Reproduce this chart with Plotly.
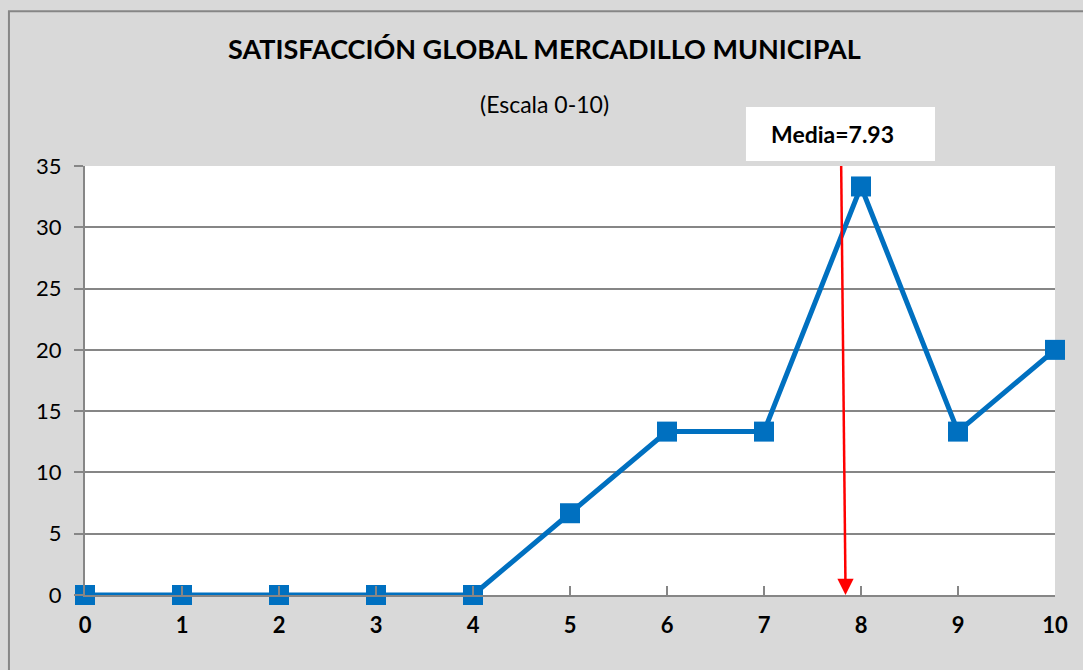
import plotly.graph_objects as go

categories = [0, 1, 2, 3, 4, 5, 6, 7, 8, 9, 10]
values = [0, 0, 0, 0, 0, 6.67, 13.33, 13.33, 33.33, 13.33, 20]
mean_label = "Media=7.93"
title_text = "SATISFACCIÓN GLOBAL MERCADILLO MUNICIPAL"
subtitle_text = "(Escala 0-10)"
y_ticks = [0, 5, 10, 15, 20, 25, 30, 35]

FONT = "Lato"
fig = go.Figure()
fig.add_trace(go.Scatter(
    x=categories, y=values, mode="lines+markers",
    line=dict(color="#0070c0", width=5),
    marker=dict(symbol="square", size=20, color="#0070c0"),
    cliponaxis=False, showlegend=False,
))

fig.update_layout(
    width=1083, height=670,
    margin=dict(l=85, r=28, t=166, b=75),
    paper_bgcolor="#d9d9d9", plot_bgcolor="white",
    font=dict(family=FONT, color="black"),
    xaxis=dict(range=[0, 10], tickmode="array", tickvals=categories,
               ticktext=[f"<b>{c}</b>" for c in categories],
               showgrid=False, zeroline=False, showline=True, linecolor="#868686",
               linewidth=2, ticks="inside", ticklen=9, tickcolor="#868686", tickwidth=2,
               tickfont=dict(size=22, family=FONT), ticklabelstandoff=10),
    yaxis=dict(range=[0, 35], tickvals=y_ticks, showgrid=True, gridcolor="#868686",
               gridwidth=1.5, zeroline=False, showline=True, linecolor="#868686", linewidth=2,
               ticks="outside", ticklen=9, tickcolor="#868686", tickwidth=2,
               tickfont=dict(size=22, family=FONT), ticklabelstandoff=8),
    shapes=[
        dict(type="rect", xref="paper", yref="paper", x0=-0.0784, x1=1.04,
             y0=-0.2, y1=1.361, line=dict(color="#868686", width=2), layer="below"),
        dict(type="rect", xref="x", yref="paper", x0=6.814, x1=8.763,
             y0=1.0117, y1=1.1375, fillcolor="white", line=dict(width=0), layer="below"),
        dict(type="line", xref="x", yref="y", x0=7.795, y0=35.45, x1=7.84, y1=0.8,
             line=dict(color="red", width=2.5), layer="above"),
    ],
    annotations=[
        dict(text=f"<b>{title_text}</b>", xref="paper", yref="paper", x=0.474, y=1.275,
             showarrow=False, font=dict(size=27, family=FONT), xanchor="center", yanchor="middle"),
        dict(text=subtitle_text, xref="paper", yref="paper", x=0.474, y=1.145,
             showarrow=False, font=dict(size=23, family=FONT), xanchor="center", yanchor="middle"),
        dict(text="", x=7.84, y=0, ax=0, ay=-14, xref="x", yref="y",
             showarrow=True, arrowhead=2, arrowsize=1.3, arrowwidth=2.5, arrowcolor="red",
             standoff=0),
        dict(text=f"<b>{mean_label}</b>", xref="x", yref="paper", x=7.71, y=1.0746,
             showarrow=False, font=dict(size=23, family=FONT), xanchor="center", yanchor="middle"),
    ],
)
fig.write_html("out.html", config={"displayModeBar": False},
               post_script="document.body.style.margin='0';document.body.style.background='#d9d9d9';")
